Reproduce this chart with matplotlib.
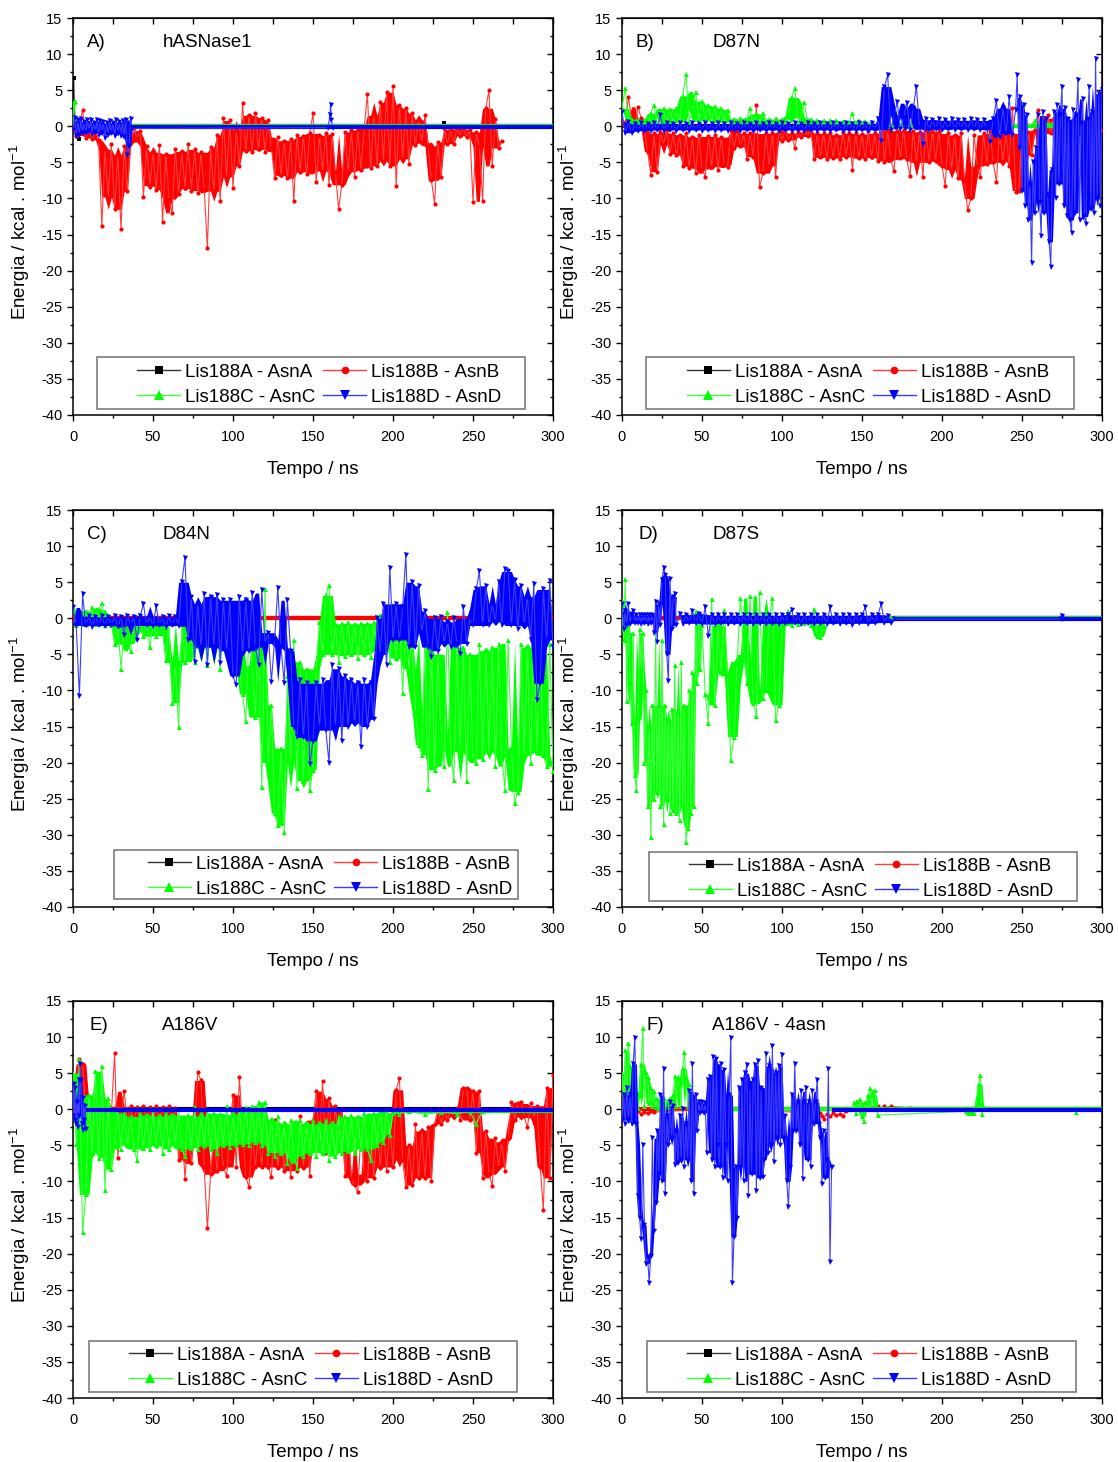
import numpy as np
import matplotlib
matplotlib.use("Agg")
import matplotlib.pyplot as plt
from matplotlib.lines import Line2D
from matplotlib.patches import Rectangle
from matplotlib.ticker import MultipleLocator

plt.rcParams['font.family'] = ['Liberation Sans', 'DejaVu Sans']
plt.rcParams['mathtext.fontset'] = 'custom'
plt.rcParams['mathtext.rm'] = 'Liberation Sans'
plt.rcParams['mathtext.it'] = 'Liberation Sans:italic'
plt.rcParams['axes.unicode_minus'] = False

# ------------------------------------------------------------------
# Interaction energy (kcal/mol) vs. simulation time (ns)
# dense traces: (start ns, step ns, values); sparse traces: explicit t / e
# ------------------------------------------------------------------
labels = ['Lis188A - AsnA', 'Lis188B - AsnB', 'Lis188C - AsnC', 'Lis188D - AsnD']

# ---------------- A) hASNase1 ----------------
a_black_t = [0, 0.5, 1, 1.5, 2, 2.5, 3, 3.5, 4, 4.5, 231.5, 232, 232.5]
a_black_e = [0, 6.7, 1.0, -0.5, 0.2, -1.0, -0.3, -0.8, -1.7, 0, 0, 0.4, 0]
a_red_vals = [-0.5, -1.3, 0.2, 2.2, -1.6, -0.3, -1.8, -0.5, -1.9,
              -13.8, -3.2, -9.8, -2.5, -11.5, -4.0, -14.3, -2.8, -9.0, -2.2,
              -0.3, -1.6, -0.6,
              -9.8, -2.8, -8.2, -3.6, -8.8, -2.6, -13.2, -3.8, -10.1, -12.0, -3.1, -9.4,
              -3.5, -8.6, -2.4, -8.9, -3.2, -9.2, -3.6, -8.7, -16.8, -2.9, -9.0, -1.2,
              -10.4, 1.2, -7.0, 0.8, -8.5, -0.5, -5.5,
              3.2, -3.4, 1.5, -3.6, 1.8, -3.2, 1.2, -3.5, 0.9, -3.0,
              -7.1, -1.5, -6.8, -2.0, -7.2, -1.8, -10.4, -1.2,
              -6.3, -1.4, -6.6, -1.0, 1.8, -7.7, -1.3, -6.2, -0.9, -8.1, -1.1, -6.4, -11.4,
              -8.1, -0.8, -6.3, -0.5, -7.0, -0.4, -6.1, -0.2, 4.5, -5.8, 1.5, -5.5,
              3.3, -4.8, 4.7, -5.5, 5.6, -8.3, 3.0, -4.5, 2.5, -5.2, 1.8,
              -2.6, 0.9, -2.3, 1.6, -2.8,
              -7.5, -10.7, -2.2, -7.0,
              -0.3, -2.5, -0.4, -2.4, -0.2, -1.3, -0.3, -1.5, -0.4,
              -10.5, -0.8,
              -2.8, -10.4, 2.5, 5.0, -5.5, 1.0, -3.0, -2.0]
a_green_t = [0, 0.5, 1, 1.5, 2, 2.5]
a_green_e = [0, 3.4, 3.5, 1.0, 0.9, 0.1]
a_blue_vals = [-0.5, 1.2, -1.4, 0.8, -1.2, 1.0, -0.9, 0.6, -1.0, 0.8,
               -0.6, 0.9, -1.1, 0.5, -0.8, 0.9, -1.2, 0.7, -1.0, 0.6,
               -1.6, 0.4, -1.2, 0.7, -0.9, 0.5, -1.3, 0.8, -1.0, 0.6,
               -1.4, 0.7, -1.5, 0.9, -4.0, -2.8, 1.0, -0.3]
a_blue_t = [159.5, 160.5, 161, 161.5, 162.5]
a_blue_e = [-0.2, 1.5, 3.0, 0.8, -0.2]

# ---------------- B) D87N ----------------
b_red_vals = [0.5, -0.5, 4.1, 1.0, -0.3, 2.7, 1.1, -0.5, -3.5, -6.7,
              -1.0, -6.3, -0.8, -2.5, -0.5, -3.8, -1.0, -4.0, -1.2, -5.5,
              -1.0, -5.8, -1.5, -6.5, -1.2, -5.9, -7.0, -1.4, -5.6, -1.2,
              -6.0, -1.5, -5.4, -5.7, -0.5, -3.0, -0.6, -2.8, -1.0, -4.5,
              -0.9, -4.2, 2.9, -8.4, -6.5, -1.0, -5.5, -0.9, -7.0, -0.5,
              -2.0, -0.4, -1.9, -1.0, -3.0, -0.8, -1.5, -0.2, -1.4, -0.3,
              -4.5, -1.0, -4.3, -0.9, -4.6, -1.0, -4.4, -1.2, -4.5, -0.8,
              -4.2, -1.0, -6.0, -0.9, -4.4, -1.1, -4.6, -0.7, -4.3, -1.0,
              -4.8, 1.8, -5.0, -0.5, -4.6, -6.2, -0.6, -4.4, -0.5, -4.5,
              -6.9, -0.6, -5.0, -0.8, -7.0, -0.5, -5.0, -0.7, -4.8, -0.6,
              -5.5, -8.3, -1.0, -6.0, -1.2, -7.2, -1.0, -7.5, -11.6, -10.0,
              -1.2, -5.5, -7.0, -1.0, -5.2, -0.6, -5.0, -7.7, -0.5, -4.8,
              -1.0, -5.5, 2.6, -9.1, -8.9, -1.0, -7.5, -0.8, -4.0, -0.5,
              2.2, -1.0, -3.5, 1.5, -1.0, 1.1, -0.8, -2.0, -0.5, -1.5,
              -0.3, -1.2, -0.4, -1.0, 0.6, -0.8, -0.3, -1.0, -0.5, -1.2,
              -0.5]
b_green_vals = [2.5, 5.3, 0.2, 1.0, 0.1, 1.0, 0.2, 0.9, 0.2, 1.8,
                3.0, 0.3, 1.2, 2.5, 0.3, 2.4, 0.4, 2.6, 0.5, 4.2,
                7.2, 0.6, 2.2, 4.8, 0.7, 3.5, 0.8, 3.0, 0.5, 2.8,
                0.4, 2.5, 0.6, 2.3, 0.3, 1.0, 0.2, 1.2, 0.3, 1.0,
                2.5, 0.2, 1.7, 0.4, 1.9, 0.3, 1.0, 0.2, 1.1, 0.3,
                1.0, 0.2, 1.5, 4.0, 5.3, 0.4, 1.2, 3.3, 0.3, 1.0,
                0.2, 0.9, 0.1, 0.8, 0.2, 0.9, 0.1, 0.8, 0.2, 0.7,
                0.1, 0.6, 1.8, 0.2, 0.8, 0.1, 0.7, 0.1, 0.6, 0.1,
                0.2]
b_green_t = [174, 175.5, 177, 178.5, 180, 256, 258, 260, 275, 277, 290, 292]
b_green_e = [0.1, 1.1, 0.3, 0.9, 0.1, 0.2, 0.8, 0.2, 0.7, 0.2, 0.6, 0.1]
b_blue_vals1 = [2.0, -1.0, 0.6, -0.9, 0.3, -0.7, 0.4, -0.6, 0.3, -0.6,
                0.4, -0.5, 1.5, -0.6, 0.4, -0.5, 0.3, -0.6, 0.4, -0.5,
                0.3, -0.6, 0.4, -0.5, 0.3, -0.6, 0.5, -0.5, 0.3, -0.6,
                0.4, -0.5, 0.3, -0.6, 0.4, -0.5, 0.3, -0.6, 0.4, -0.5,
                0.3, -0.6, 0.4, -0.5, 0.3, -0.6, 0.4, -0.5, 0.3, -0.6,
                0.4, -0.5, 0.3, -0.6, 0.4, -0.5, 0.3, -0.6, 0.4, -0.5,
                0.3, -0.6, 0.4, -0.5, 0.3, -0.6, 0.4, -0.5, 0.3, -0.6,
                0.4, -0.5, 0.3, -0.6, 0.4, -0.5, 0.3, -0.6, 0.4, -0.5,
                1.0, -2.0, 5.5, 7.1, -0.5, 1.5, 3.3, -0.4, 1.2, 3.2,
                -0.5, 2.5, 5.5, -0.3, -2.5, 1.0, -0.5, 0.9, -0.4, 1.0,
                -0.5, 0.8, -0.4, 1.0, -0.5, 0.9, -0.4, 0.8, -0.5, 1.0,
                -0.4, 0.9, -0.5, 0.8, -0.4, -2.2, 1.0, 3.5, -1.5, 2.5,
                -1.0, 4.0, -1.2]
b_blue_vals2 = [2.3, 7.1, -3.0, 4.0, -9.0, 3.0, -11.0, 1.5, -13.0, -8.0,
                -18.9, -5.0, -12.0, -3.0, 1.5, -10.5, -15.2, 2.0, -12.0, 1.0,
                -9.5, -16.0, -19.5, -6.0, 2.0, -10.0, 3.0, -8.0, 1.5, 5.5,
                -11.0, 2.5, -12.5, 1.0, -13.0, -14.8, 2.2, -12.0, 1.5, 6.4,
                -13.0, 0.5, 3.8, -12.5, -13.5, 1.0, 5.5, -11.5, 2.0, -12.0,
                9.3, -10.0, 4.5, -11.0, 5.0]

# ---------------- C) D84N ----------------
c_green_vals = [1.6, -1.0, 1.2, -0.8, 1.0, -0.6, 1.5, -0.8, 1.2, 2.1,
                -0.9, 0.5, -1.0, -3.6, -0.8, -7.0, -1.0, -3.5, -4.5, -0.6,
                -1.8, -0.5, -2.5, -0.6, -4.0, -0.7, -2.4, -0.5, -2.0, -5.8,
                -0.6, -11.7, -6.2, -15.0, -0.8, -6.0, -0.5, -3.5, -6.0, -0.4,
                -4.2, -0.6, -6.5, -0.3, -4.0, -0.5, -7.0, -0.4, -4.5, -0.8,
                -5.5, -1.0, -7.0, -10.5, -14.3, -1.5, -6.5, -13.7, -2.0, -23.4,
                4.1, -20.0, -12.0, -27.0, -28.7, -18.0, -29.6, -8.0, -20.0, -3.0,
                -23.5, -6.0, -22.5, -7.0, -23.8, -21.0, -7.0, -0.5, -5.0, 3.2,
                4.6, -5.0, -0.8, -6.0, -0.7, -5.2, -0.5, -5.0, -0.8, -5.5,
                -0.6, -5.0, -0.7, -5.3, -0.5, -4.5, 0.5, -4.0, 1.5, -6.0,
                1.8, -5.5, 0.5, -10.4, -1.0, -7.0, -2.5, -13.0, -17.5, -18.9,
                -1.5, -23.6, -4.0, -21.0, -5.0, -16.0, -20.5, 0.8, -18.0, -22.4,
                -3.0, -18.5, -4.0, -22.5, -5.0, -19.5, -20.0, -3.5, -19.5, -4.5,
                -18.5, -4.0, -20.5, -3.5, -19.0, -23.8, -3.0, -18.0, -25.6, -24.0,
                -3.5, -19.0, -4.0, -20.0, -3.0, -18.5, -5.0, -19.0, -20.5, -3.5,
                -21.2]
c_blue_vals = [1.5, -1.0, -10.8, 3.3, -1.0, 0.3, -1.2, 0.2, -1.0, 0.3,
               -1.1, 0.2, -1.0, 0.3, -1.2, 0.2, -2.3, 0.3, -1.0, 0.2,
               -3.0, 0.3, 2.0, -1.0, 0.3, -1.1, 1.7, -1.0, 0.2, -1.2,
               0.3, -1.0, 0.2, -1.1, 5.0, 8.4, -3.0, 3.0, -6.0, 2.0,
               -4.0, 3.3, -6.5, 3.0, -4.0, 3.2, -6.2, 2.5, -4.5, 2.5,
               -8.0, -9.3, 3.0, -5.0, 2.5, -4.5, 3.5, -4.0, -6.5, 3.9,
               -3.5, -2.0, -8.8, -3.0, 4.2, -4.0, -9.0, 2.5, -4.5, -15.0,
               -16.5, -8.5, -16.5, -9.0, -20.2, -17.0, -9.0, -15.0, -8.5, -15.5,
               -20.0, -6.5, -15.0, -7.0, -17.0, -8.0, -15.0, -8.5, -14.5, -9.0,
               -17.9, -8.5, -15.0, -9.0, -14.0, 0.0, -5.0, 2.0, -6.5, 7.0,
               -3.0, 2.0, -3.0, 1.5, 8.7, -4.0, 5.0, -4.0, 4.5, -2.0,
               1.0, -4.0, -5.3, 0.0, -4.5, 0.2, -3.5, -0.5, -4.0, 0.0,
               -3.5, -5.0, 1.5, -3.5, 0.0, -1.0, 4.0, 6.5, -1.0, 4.5,
               -1.0, 2.0, -0.5, 5.0, -1.0, 6.8, 6.5, -1.0, 5.3, -1.5,
               4.5, -1.0, 3.0, -3.0, 4.7, -11.3, -9.0, 4.0, -3.0, 5.1,
               -4.0]

# ---------------- D) D87S ----------------
d_red_t = [2, 3, 4]
d_red_e = [0.0, -2.0, 0.0]
d_green_vals1 = [2.5, -3.0, 5.4, -11.5, 1.0, -9.0, -14.5, -2.0, -21.7, -23.8,
                 -14.0, -1.5, -7.0, -2.0, -20.0, -10.0, -26.0, -15.0, -30.3, -12.0,
                 -25.0, -1.5, -24.0, -12.0, -26.0, -3.0, -28.5, -12.0, -25.0, -14.0,
                 -27.0, -12.5, -26.5, -6.5, -27.0, -13.0, -28.0, -6.0, -26.0, -12.0,
                 -31.0, -29.0, -10.0, -27.0, -7.5, -26.0, 1.0, -9.0, 0.5, -7.0,
                 -1.0]
d_green_vals2 = [-10.5, -14.5, 2.7, -12.0, -1.0, -7.5, 1.2, -8.0, -19.6, -16.4,
                 -6.0, 2.8, -5.0, -9.0, 3.1, -11.8, -13.5, 3.6, -11.0, -10.0,
                 0.0, 2.8, -14.1, -12.0, -1.0, 0.2, 1.0, -1.0, 0.0, -0.8,
                 0.0, -0.7, 0.0, -1.0, 1.3, -2.5, -2.6, -1.0, 0.0]
d_blue_vals1 = [2.0, -1.5, 1.0, -1.0, 2.0, -0.8, 0.5, 1.0, -0.7, 0.4,
                -0.7, 0.5, -0.8, 0.4, -0.7, 0.5, -0.8, 0.4, -0.7, 0.5,
                -2.0, 2.2, -3.3, 2.0, -1.0, 5.3, 7.0, 6.0, -5.0, -8.7,
                5.5, -1.5, 3.0, 3.3, -1.0]
d_blue_vals2 = [0.6, -0.8, 0.5, -0.7, 1.0, -0.7, 0.6, -0.8, 1.5, -2.5,
                0.5, -0.8, 0.4, -0.7, 0.5, -0.8, 0.4, -0.7, 0.5, -0.8,
                0.4, -0.7, 0.5, -0.8, 0.4, -0.7, 0.5, -0.8, 0.4, -0.7,
                0.5, -0.8, 0.4, -0.7, 0.5, 1.2, -0.7, 0.4, -0.8, 0.5,
                -0.7, 0.4, -0.8, 0.5, -0.7, 0.4, -0.8, 1.5, -0.7, 0.4,
                -0.8, 0.5, -0.7, 0.4, -1.0, 0.5, -0.7, 0.4, 1.5, -0.8,
                0.4, -0.7, 0.5, 2.0, -0.6, 0.3, -0.6, -0.1]
d_blue_t = [274.5, 275, 275.5]
d_blue_e = [-0.1, 0.3, -0.1]

# ---------------- E) A186V ----------------
e_red_vals = [-1.0, 3.0, 7.0, 6.3, -1.0, 0.8, -1.0, 0.5, -0.8, 0.6,
              -1.0, 0.4, -0.5, 7.8, -6.7, -1.0, 2.5, -2.0, 0.4, -1.8,
              0.3, -2.0, 0.4, -1.5, 0.3, -2.0, 0.4, -1.8, 0.3, -2.0,
              0.4, -1.5, 0.2, -7.0, -2.0, -9.7, -3.0, -7.5, -2.5, 5.1,
              4.0, -8.0, -16.5, -9.0, -3.0, -8.5, -3.5, -8.0, -9.3, -3.0,
              2.0, -8.0, 4.5, -3.0, -9.4, -10.8, -3.0, -8.0, -3.5, -8.0,
              -1.0, -8.0, -9.4, -1.5, -8.0, -3.0, -8.5, -3.5, -9.4, -3.0,
              -8.5, -1.0, -8.0, -2.0, -9.3, -1.5, 2.5, -5.0, 3.9, -6.0,
              1.5, -5.5, 0.5, -5.0, 0.0, -9.3, -3.0, -9.5, -10.5, -11.5,
              -3.0, -9.0, -10.0, -3.5, -9.5, -2.0, -8.0, -2.5, -8.5, -2.0,
              -8.0, 2.7, 4.3, -7.0, -10.8, -5.0, -10.5, -2.0, -9.5, -3.0,
              -9.5, -2.5, -10.0, -2.0, 0.0, -2.0, 0.0, -1.5, 0.0, -1.0,
              0.2, -1.5, 3.0, 3.0, -1.5, 2.5, -6.0, 2.5, -9.5, -3.0,
              -9.0, -10.6, -4.0, -8.0, -4.5, -8.5, -4.0, 1.0, -1.5, 0.8,
              1.0, -1.0, -2.5, 0.8, -1.2, 0.5, -8.0, -14.0, 3.0, -9.5,
              4.8]
e_green_vals = [5.0, -4.8, 6.9, -17.0, -11.8, 2.0, -6.0, 5.3, -6.7, 6.0,
                -11.2, 1.5, -8.3, -5.0, 0.0, -5.5, -0.5, -5.0, -1.0, -5.5,
                -7.0, -0.5, -5.3, -0.8, -5.5, 0.0, -5.0, -1.0, -6.0, -0.5,
                -5.5, -0.8, -5.0, 0.0, -5.5, -6.5, -0.8, -5.3, 0.3, -5.5,
                -1.0, -5.0, 0.0, -5.5, -0.5, -6.0, -0.6, -5.0, 0.5, -5.2,
                -0.8, -5.0, 0.0, -4.8, 0.3, -5.0, 0.5, -4.5, 1.0, -5.0,
                1.0, -6.0, -1.5, -6.5, -1.0, -6.0, -2.0, -7.5, -1.5, -6.5,
                -8.1, -1.5, -6.5, -2.0, -6.0, -1.5, -6.5, -2.0, -6.0, -1.5,
                -7.0, -2.0, -6.5, -1.0, -6.0, -1.0, -5.8, -0.8, -6.0, -1.0,
                -5.5, -0.5, -5.5, -7.0, -0.5, -5.0, -0.3, -4.5, 0.0, -3.5,
                -0.5]
e_green_t = [204, 210, 220, 230, 240, 248, 252, 256]
e_green_e = [-0.6, -0.3, -0.7, -0.4, -0.6, -0.3, -2.0, -0.2]
e_blue_vals = [-1.0, 3.5, -1.5, 3.0, -2.0, 1.0, -2.5, 4.0, -1.0, 6.25,
               4.0, -2.0, -2.9, 1.5, -1.5, 0.5, -2.8]

# ---------------- F) A186V - 4asn ----------------
f_red_t = [8, 10, 12, 14, 16, 18, 20, 49.5, 50, 50.5, 124, 125, 126, 128, 130,
           132, 134, 136, 138, 140, 160, 162, 164, 166, 168, 180]
f_red_e = [-0.5, -0.3, -0.6, -0.4, -0.5, -0.3, -0.4, 0.0, 0.6, 0.0, -0.5, -1.0, -1.3,
           -0.6, -1.0, -0.5, -0.8, -0.7, -0.9, -0.2, 0.4, 0.1, 0.4, 0.2, 0.4, 0.2]
f_green_vals1 = [5.0, 0.5, 8.2, 1.0, 9.2, 6.0, 0.5, 3.0, 0.3, 2.5,
                 0.2, 2.0, 6.3, 11.3, 0.5, 5.1, 4.5, 0.8, 3.0, 0.5,
                 2.5, 0.3, 1.5, 0.2, 1.2, 0.3, 1.5, 0.2, 1.0, 0.3,
                 1.5, 0.2, 2.0, 4.6, 0.5, 4.5, 3.5, 0.5, 5.7, 7.9,
                 4.4, 0.5, 3.5, 0.8, 1.0, 0.2, 0.8, 0.1, 0.6, 0.1,
                 0.0]
f_green_vals2 = [0.0, 1.0, -0.5, 1.2, 0.2, 1.4, -1.0, -1.6, 1.0, 0.0,
                 2.0, 3.0, 0.5, 2.0, 2.7, 0.5, -0.8]
f_green_vals3 = [-0.3, -0.5, -0.3, -0.5, -0.3, -0.5, 0.5, 1.5, 3.5, 4.8,
                 -0.7, 0.3, 0.0]
f_green_t = [283.5, 284, 284.5]
f_green_e = [0.0, -0.4, 0.0]
f_blue_vals = [-1.5, 2.0, -2.0, 3.0, -1.5, 2.0, -2.0, 6.3, 9.9, -2.0,
               -12.0, -15.0, -18.0, -5.0, -16.0, -21.4, -20.5, -24.0, -20.3, -4.0,
               -16.8, -13.0, -3.0, -9.0, 2.0, -10.0, 5.6, -11.7, -1.0, -5.0,
               1.0, -4.0, 0.5, -7.7, -3.0, -7.5, -1.0, -7.0, 0.0, -8.0,
               -2.0, -7.0, 2.5, -10.0, 6.3, -11.8, 2.0, -3.0, 1.0, -0.5,
               1.0, -0.5, 0.8, -6.0, 4.0, 4.5, -7.0, 7.2, -8.0, 7.0,
               -5.0, -8.0, 6.3, -9.5, 5.5, -5.0, -10.0, 2.0, 9.9, -24.0,
               -17.7, -8.0, -15.0, 3.0, -8.0, 4.0, -10.0, 5.0, 6.1, -12.0,
               3.0, -9.0, 4.0, 6.1, -11.3, 6.7, -9.5, 3.0, -9.4, -7.0,
               7.6, -6.0, 6.0, -5.0, 8.7, -7.3, 5.0, -4.0, 6.0, -5.0,
               7.5, -4.0, -1.0, -10.0, -13.5, -8.0, 2.0, -3.0, 6.3, -3.0,
               1.0, -5.0, 2.5, -9.7, 1.0, 3.0, -7.0, 1.0, -8.0, 2.5,
               -2.0, 1.0, 4.1, -2.0, -4.0, -10.3, -3.0, -9.5, -7.0, 5.6,
               -21.2, -8.0]

# ------------------------------------------------------------------
# per-panel layout of traces: chunks, sparse points, flat baseline (level, t0, t1)
# ------------------------------------------------------------------
def S(chunks=(), t=None, e=None, base=None):
    return dict(chunks=list(chunks), t=t, e=e, base=base)

panels = [
    dict(tag='A)', name='hASNase1', tag_x=0.029, name_x=0.1875,
         leg=(0.1333, 0.0756, 0.050, 0.9417, 0.0151, 0.1461),
         series=[S(t=a_black_t, e=a_black_e, base=(0.0, 0, 300)),
                 S(chunks=[(0, 2, a_red_vals)]),
                 S(t=a_green_t, e=a_green_e, base=(0.1, 2.5, 300)),
                 S(chunks=[(0, 1, a_blue_vals)], t=a_blue_t, e=a_blue_e,
                   base=(-0.15, 37, 300))]),
    dict(tag='B)', name='D87N', tag_x=0.029, name_x=0.1885,
         leg=(0.135, 0.0756, 0.050, 0.9417, 0.0151, 0.1461),
         series=[S(base=(0.0, 0, 300)),
                 S(chunks=[(0, 2, b_red_vals)]),
                 S(chunks=[(0, 2, b_green_vals)], t=b_green_t, e=b_green_e,
                   base=(0.1, 160, 300)),
                 S(chunks=[(0, 2, b_blue_vals1), (246, 1, b_blue_vals2)])]),
    dict(tag='C)', name='D84N', tag_x=0.029, name_x=0.186,
         leg=(0.156, 0.0756, 0.0846, 0.927, 0.0202, 0.1436),
         series=[S(base=(0.0, 0, 300)),
                 S(base=(0.0, 0, 300)),
                 S(chunks=[(0, 2, c_green_vals)]),
                 S(chunks=[(0, 2, c_blue_vals)])]),
    dict(tag='D)', name='D87S', tag_x=0.035, name_x=0.188,
         leg=(0.139, 0.0713, 0.0554, 0.948, 0.0151, 0.1385),
         series=[S(base=(0.0, 0, 300)),
                 S(t=d_red_t, e=d_red_e, base=(0.0, 0, 300)),
                 S(chunks=[(0, 1, d_green_vals1), (52, 2, d_green_vals2)],
                   base=(0.1, 128, 300)),
                 S(chunks=[(0, 1, d_blue_vals1), (36, 2, d_blue_vals2)],
                   t=d_blue_t, e=d_blue_e, base=(-0.1, 170, 300))]),
    dict(tag='E)', name='A186V', tag_x=0.035, name_x=0.186,
         leg=(0.1158, 0.0756, 0.0333, 0.925, 0.0151, 0.1436),
         series=[S(base=(0.0, 0, 300)),
                 S(chunks=[(0, 2, e_red_vals)]),
                 S(chunks=[(0, 2, e_green_vals)], t=e_green_t, e=e_green_e,
                   base=(-0.2, 200, 300)),
                 S(chunks=[(0, 0.5, e_blue_vals)], base=(-0.1, 8, 300))]),
    dict(tag='F)', name='A186V - 4asn', tag_x=0.05, name_x=0.187,
         leg=(0.135, 0.0756, 0.052, 0.946, 0.0151, 0.1436),
         series=[S(base=(0.0, 0, 300)),
                 S(t=f_red_t, e=f_red_e, base=(0.0, 0, 300)),
                 S(chunks=[(0, 1, f_green_vals1), (144, 1, f_green_vals2),
                           (215, 1, f_green_vals3)],
                   t=f_green_t, e=f_green_e, base=(0.1, 50, 300)),
                 S(chunks=[(0, 1, f_blue_vals)], base=(-0.15, 131, 300))]),
]

# marker, marker colour, line colour, marker size
styles = [('s', '#000000', '#333333', 3.0),
          ('o', '#ff0000', '#ff3c3c', 3.0),
          ('^', '#00ff00', '#3cff3c', 3.6),
          ('v', '#0000ff', '#3c3cff', 3.6)]


def trace_points(spec):
    ts, es = [], []
    for start, step, vals in spec['chunks']:
        ts += [start + step * i for i in range(len(vals))]
        es += list(vals)
    if spec['t'] is not None:
        ts += list(spec['t'])
        es += list(spec['e'])
    ts = np.asarray(ts, float)
    es = np.asarray(es, float)
    order = np.argsort(ts, kind='stable')
    return ts[order], es[order]


def core_band(vals):
    """Body of a fast-fluctuating trace: 2nd-lowest / 2nd-highest value in a
    5-sample window, so isolated excursions stay as thin spikes."""
    v = np.asarray(vals, float)
    lo, hi = np.empty_like(v), np.empty_like(v)
    for i in range(len(v)):
        w = np.sort(v[max(0, i - 2):i + 3])
        lo[i] = w[1] if len(w) > 2 else w[0]
        hi[i] = w[-2] if len(w) > 2 else w[-1]
    return lo, hi


W, H = 1118, 1462
fig = plt.figure(figsize=(W / 100, H / 100), dpi=100)
lefts = [73, 622]
tops = [18, 510, 1001]
ax_w, ax_h = 480, 397

for idx, p in enumerate(panels):
    col, row = idx % 2, idx // 2
    ax = fig.add_axes([lefts[col] / W, 1 - (tops[row] + ax_h) / H, ax_w / W, ax_h / H])

    for k, spec in enumerate(p['series']):
        m, mc, lc, ms = styles[k]
        if spec['base'] is not None:
            lvl, t0, t1 = spec['base']
            ax.plot([t0, t1], [lvl, lvl], color=mc, lw=3.0,
                    solid_capstyle='butt', zorder=2 + k)
        for start, step, vals in spec['chunks']:
            tc = start + step * np.arange(len(vals))
            lo, hi = core_band(vals)
            ax.fill_between(tc, lo, hi, color=mc, lw=0, zorder=2 + k)
        t, e = trace_points(spec)
        if len(t):
            ax.plot(t, e, color=lc, lw=0.8, marker=m, ms=ms, mfc=mc, mec=mc,
                    mew=0, zorder=2 + k)

    ax.set_xlim(0, 300)
    ax.set_ylim(-40, 15)
    ax.set_xticks(np.arange(0, 301, 50))
    ax.set_yticks(np.arange(-40, 16, 5))
    ax.xaxis.set_minor_locator(MultipleLocator(25))
    ax.yaxis.set_minor_locator(MultipleLocator(2.5))
    ax.tick_params(which='major', direction='out', length=4.5, width=1.0,
                   labelsize=10.5, top=False, right=False)
    ax.tick_params(which='minor', direction='out', length=2.5, width=1.0,
                   top=False, right=False)
    ax.tick_params(axis='x', which='major', pad=6.0)
    ax.tick_params(axis='y', which='major', pad=3.0)
    for sp in ax.spines.values():
        sp.set_linewidth(1.1)

    sec_y = ax.secondary_yaxis('right')
    sec_y.set_yticks(np.arange(-40, 16, 5))
    sec_y.yaxis.set_minor_locator(MultipleLocator(2.5))
    sec_y.tick_params(which='major', direction='in', length=4.5, width=1.0, labelright=False)
    sec_y.tick_params(which='minor', direction='in', length=2.5, width=1.0)
    sec_x = ax.secondary_xaxis('top')
    sec_x.set_xticks(np.arange(0, 301, 50))
    sec_x.xaxis.set_minor_locator(MultipleLocator(25))
    sec_x.tick_params(which='major', direction='in', length=4.5, width=1.0, labeltop=False)
    sec_x.tick_params(which='minor', direction='in', length=4.0, width=1.0)

    ax.text(-0.11, 0.46, 'Energia / kcal . mol$^{-1}$', transform=ax.transAxes,
            rotation=90, ha='center', va='center', fontsize=13.5)
    ax.text(0.499, -0.1385, 'Tempo / ns', transform=ax.transAxes,
            ha='center', va='center', fontsize=13.5)
    ax.text(p['tag_x'], 0.938, p['tag'], transform=ax.transAxes,
            ha='left', va='center', fontsize=13.5)
    ax.text(p['name_x'], 0.938, p['name'], transform=ax.transAxes,
            ha='left', va='center', fontsize=13.5)

    hx, hy, bx0, bx1, by0, by1 = p['leg']
    box = Rectangle((bx0, by0), bx1 - bx0, by1 - by0, transform=ax.transAxes,
                    facecolor='white', edgecolor='#707070', lw=1.1, zorder=9)
    ax.add_patch(box)
    handles = [Line2D([], [], color=styles[k][2], lw=1.0, marker=styles[k][0],
                      ms=6.5 if k >= 2 else 5.5, mfc=styles[k][1], mec=styles[k][1],
                      mew=0) for k in range(4)]
    order = [0, 2, 1, 3]
    leg = ax.legend([handles[i] for i in order], [labels[i] for i in order],
                    ncol=2, loc='center left', bbox_to_anchor=(hx, hy),
                    frameon=False, fontsize=13.5, handlelength=2.3,
                    handletextpad=0.28, columnspacing=0.4, labelspacing=0.42,
                    borderpad=0, borderaxespad=0, numpoints=1)
    leg.set_zorder(10)

fig.savefig('out.png', dpi=100, facecolor='white')
